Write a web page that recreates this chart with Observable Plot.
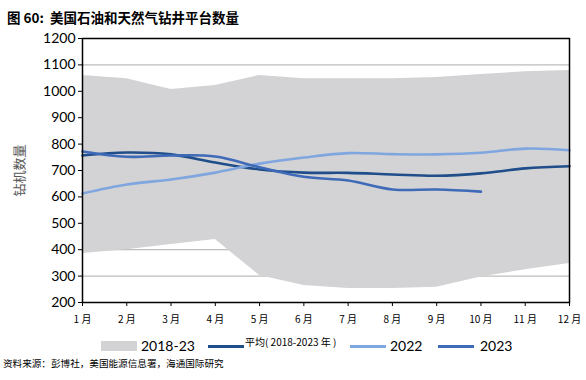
<!DOCTYPE html>
<html><head><meta charset="utf-8">
<script src="https://cdn.jsdelivr.net/npm/d3@7"></script>
<script src="https://cdn.jsdelivr.net/npm/@observablehq/plot@0.6"></script>
<style>
body{margin:0;background:#fff;font-family:"Noto Sans CJK SC",sans-serif;}
#wrap{position:relative;width:586px;height:380px;overflow:hidden;}
#title{position:absolute;left:7px;top:7px;font-size:13.5px;font-weight:bold;color:#000;white-space:pre;}
#chart{position:absolute;left:0;top:0;}
#legend{position:absolute;left:0;top:337px;width:586px;height:22px;}
.lg{position:absolute;white-space:nowrap;}
#src{position:absolute;left:3px;top:356px;font-size:9.6px;color:#000;}
</style></head><body>
<div id="wrap">
<div id="chart"></div>
<div id="title">图 60:  美国石油和天然气钻井平台数量</div>
<div id="legend">
  <div class="lg" style="left:101px;top:4px;width:36px;height:10px;background:#D3D2D4"></div>
  <div class="lg" style="left:141px;top:0px;font-family:Lato;font-size:14px">2018-23</div>
  <div class="lg" style="left:208px;top:8px;width:36px;height:3px;background:#1F4E8A"></div>
  <div class="lg" style="left:245px;top:-3px;font-size:10px">平均( 2018-2023 年 )</div>
  <div class="lg" style="left:350px;top:8px;width:36px;height:3px;background:#7FA6DE"></div>
  <div class="lg" style="left:390px;top:0px;font-family:Lato;font-size:14px">2022</div>
  <div class="lg" style="left:438px;top:8px;width:36px;height:3px;background:#3E6AB8"></div>
  <div class="lg" style="left:480px;top:0px;font-family:Lato;font-size:14px">2023</div>
</div>
<div id="src">资料来源：彭博社，美国能源信息署，海通国际研究</div>
</div>
<script>
const months = [1,2,3,4,5,6,7,8,9,10,11,12];
const rangeHigh = [1060,1048,1007,1022,1060,1048,1048,1048,1052,1064,1074,1079];
const rangeLow  = [386,400,420,439,302,264,253,253,258,297,324,348];
const avgVals   = [757,768,761,730,704,692,691,685,680,689,708,716];
const v2022     = [613,647,666,692,726,749,766,762,761,767,783,777];
const v2023     = [772,752,757,753,712,676,662,628,628,620];
const yTicks    = [200,300,400,500,600,700,800,900,1000,1100,1200];
const yLabel    = "钻机数量";

const band = months.map((m,i)=>({m, lo:rangeLow[i], hi:rangeHigh[i]}));
const avg = months.map((m,i)=>({m, v:avgVals[i]}));
const s22 = months.map((m,i)=>({m, v:v2022[i]}));
const s23 = v2023.map((v,i)=>({m:months[i], v}));

const chart = Plot.plot({
  width:586, height:330,
  marginLeft:82, marginRight:17, marginTop:38, marginBottom:28,
  style:{fontFamily:"Lato, sans-serif", color:"#000", background:"transparent"},
  x:{domain:[1,12]},
  y:{domain:[200,1200]},
  marks:[
    Plot.ruleY(yTicks.filter(t=>t>200 && t<1200), {stroke:"#BDBDBD", strokeWidth:1.2}),
    Plot.areaY(band, {x:"m", y1:"lo", y2:"hi", fill:"#D3D2D4"}),
    Plot.line(avg, {x:"m", y:"v", stroke:"#1F4E8A", strokeWidth:2.6, curve:"catmull-rom"}),
    Plot.line(s22, {x:"m", y:"v", stroke:"#7FA6DE", strokeWidth:2.6, curve:"catmull-rom"}),
    Plot.line(s23, {x:"m", y:"v", stroke:"#3E6AB8", strokeWidth:2.6, curve:"catmull-rom"}),
    Plot.frame({stroke:"#000", strokeWidth:1.5}),
    Plot.axisY({ticks:yTicks, tickSize:4, tickPadding:3, fontSize:14, tickFormat:d=>String(d),
      label:yLabel, labelAnchor:"center", labelArrow:"none", labelOffset:68}),
    Plot.axisX({ticks:months, tickSize:4, tickPadding:9, fontSize:10, tickFormat:d=>d+" 月",
      fontFamily:"Noto Sans CJK SC", label:null})
  ]
});
chart.querySelectorAll("g[aria-label='y-axis label'] text").forEach(t=>{
  t.setAttribute("font-size","13"); t.setAttribute("fill","#555");
  t.setAttribute("font-family","Noto Sans CJK SC");
});
document.getElementById("chart").appendChild(chart);
</script>
</body></html>
